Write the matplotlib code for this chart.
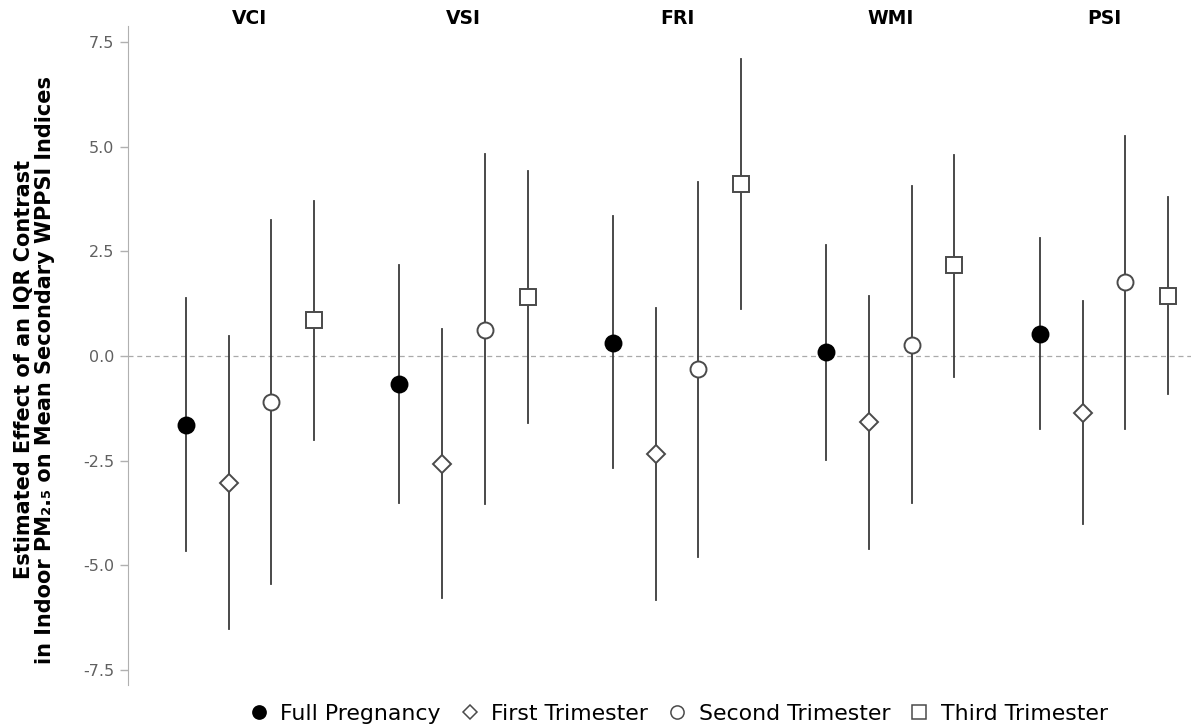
import numpy as np
import matplotlib
matplotlib.use("Agg")
import matplotlib.pyplot as plt
from matplotlib.lines import Line2D

# WPPSI indices and exposure windows
indices = ["VCI", "VSI", "FRI", "WMI", "PSI"]
windows = ["Full Pregnancy", "First Trimester", "Second Trimester", "Third Trimester"]

# point estimates, rows = window, cols = index
est_full = [-1.65, -0.68, 0.30, 0.10, 0.52]
est_first = [-3.03, -2.58, -2.34, -1.59, -1.36]
est_second = [-1.10, 0.62, -0.31, 0.26, 1.76]
est_third = [0.85, 1.40, 4.11, 2.16, 1.43]

# 95% CI bounds
lo_full = [-4.66, -3.51, -2.67, -2.48, -1.74]
hi_full = [1.38, 2.17, 3.33, 2.64, 2.81]
lo_first = [-6.52, -5.78, -5.84, -4.61, -4.01]
hi_first = [0.47, 0.64, 1.15, 1.43, 1.31]
lo_second = [-5.45, -3.53, -4.80, -3.51, -1.74]
hi_second = [3.25, 4.82, 4.16, 4.05, 5.25]
lo_third = [-2.01, -1.60, 1.12, -0.50, -0.91]
hi_third = [3.71, 4.42, 7.09, 4.81, 3.79]

estimates = [est_full, est_first, est_second, est_third]
lowers = [lo_full, lo_first, lo_second, lo_third]
uppers = [hi_full, hi_first, hi_second, hi_third]

markers = ["o", "D", "o", "s"]
faces = ["black", "white", "white", "white"]
edges = ["black", "#4a4a4a", "#4a4a4a", "#4a4a4a"]
sizes = [11.5, 9, 11.5, 11]

fig = plt.figure(figsize=(11.91, 7.28), dpi=100)
ax = fig.add_axes([0.1072, 0.0591, 0.8928, 0.9052])

group_gap = 5
for w in range(len(windows)):
    xs = np.arange(len(indices)) * group_gap + w
    for i in range(len(indices)):
        ax.plot([xs[i], xs[i]], [lowers[w][i], uppers[w][i]], color="#3a3a3a", lw=1.3, zorder=2)
    ax.plot(xs, estimates[w], linestyle="none", marker=markers[w], markersize=sizes[w],
            markerfacecolor=faces[w], markeredgecolor=edges[w], markeredgewidth=1.4, zorder=3)

ax.axhline(0, color="#aaaaaa", lw=0.9, ls=(0, (4, 3)), zorder=1)

ax.set_xlim(-1.365, 23.54)
ax.set_ylim(-7.86, 7.88)
ax.set_yticks([-7.5, -5.0, -2.5, 0.0, 2.5, 5.0, 7.5])
ax.set_yticklabels(["-7.5", "-5.0", "-2.5", "0.0", "2.5", "5.0", "7.5"])
ax.set_xticks([])
for s in ["top", "right", "bottom"]:
    ax.spines[s].set_visible(False)
ax.spines["left"].set_color("#b0b0b0")
ax.tick_params(axis="y", colors="#b0b0b0", labelcolor="#606060", labelsize=11.5, length=6, width=1)

# group titles
for i, name in enumerate(indices):
    ax.annotate(name, xy=(i * group_gap + 1.5, 1.0), xycoords=("data", "axes fraction"),
                xytext=(0, 5.5), textcoords="offset points", ha="center", va="center",
                fontsize=13.5, fontweight="bold")

fig.text(0.029, 0.492, "Estimated Effect of an IQR Contrast\nin Indoor PM\u2082.\u2085 on Mean Secondary WPPSI Indices",
         rotation=90, ha="center", va="center", fontsize=15, fontweight="bold", linespacing=1.1)

handles = [Line2D([], [], linestyle="none", marker=markers[w], markersize=9.5 if w != 1 else 7.5,
                  markerfacecolor=faces[w], markeredgecolor=edges[w], markeredgewidth=1.1)
           for w in range(len(windows))]
fig.legend(handles, windows, loc="center", bbox_to_anchor=(0.569, 0.019), ncol=4, frameon=False,
           fontsize=15.8, handletextpad=0.5, columnspacing=0.8, handlelength=1.0)

fig.savefig("out.png", dpi=100)
